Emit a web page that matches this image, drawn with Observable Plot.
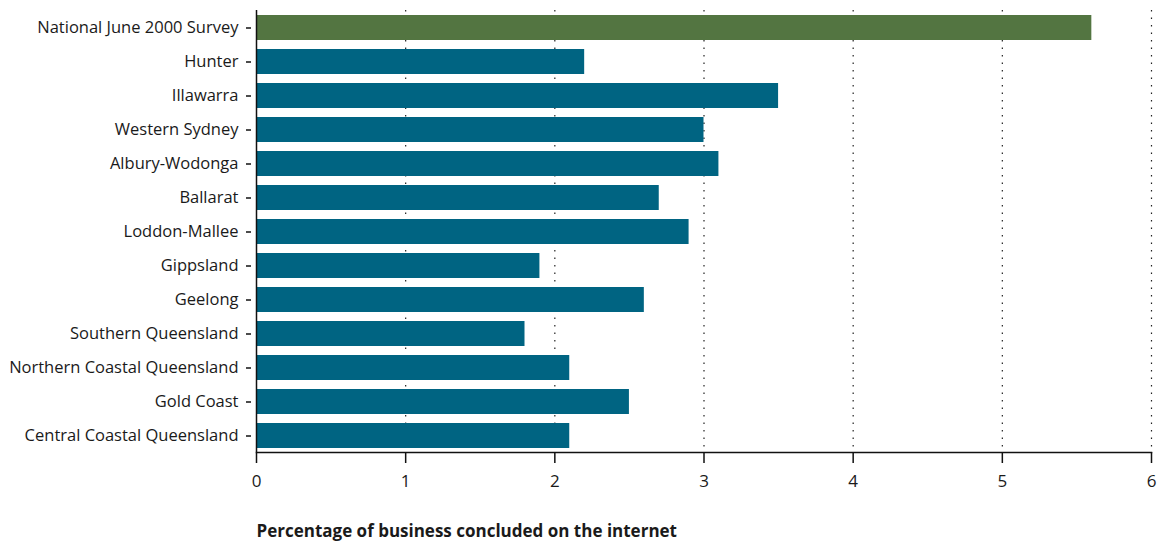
<!DOCTYPE html>
<html>
<head>
<meta charset="utf-8">
<script src="https://cdn.jsdelivr.net/npm/d3@7"></script>
<script src="https://cdn.jsdelivr.net/npm/@observablehq/plot@0.6"></script>
<style>
  html, body { margin: 0; padding: 0; background: #fff; }
  #chart svg { font-family: "Open Sans", sans-serif; }
</style>
</head>
<body>
<div id="chart"></div>
<script>
const regions = [
  "National June 2000 Survey",
  "Hunter",
  "Illawarra",
  "Western Sydney",
  "Albury-Wodonga",
  "Ballarat",
  "Loddon-Mallee",
  "Gippsland",
  "Geelong",
  "Southern Queensland",
  "Northern Coastal Queensland",
  "Gold Coast",
  "Central Coastal Queensland"
];
const percentages = [5.6, 2.2, 3.5, 3.0, 3.1, 2.7, 2.9, 1.9, 2.6, 1.8, 2.1, 2.5, 2.1];
const groups = ["National", "Regional", "Regional", "Regional", "Regional", "Regional", "Regional", "Regional", "Regional", "Regional", "Regional", "Regional", "Regional"];
const xTicks = [0, 1, 2, 3, 4, 5, 6];
const xTitle = "Percentage of business concluded on the internet";

const data = regions.map((r, i) => ({region: r, value: percentages[i], group: groups[i]}));

const chart = Plot.plot({
  width: 1166,
  height: 541,
  marginLeft: 256,
  marginRight: 15,
  marginTop: 10,
  marginBottom: 89,
  style: {fontSize: "17px", color: "#1a1a1a", fontFamily: "'Open Sans', sans-serif"},
  x: {domain: [0, 6], ticks: xTicks, label: null},
  y: {domain: regions, paddingInner: 0.27, paddingOuter: 0.135, label: null},
  color: {domain: ["National", "Regional"], range: ["#537541", "#006482"]},
  marks: [
    Plot.gridX(xTicks.slice(1), {stroke: "#222", strokeOpacity: 1, strokeDasharray: "1.5,6", strokeWidth: 1.2}),
    Plot.barX(data, {x: "value", y: "region", fill: "group"}),
    Plot.ruleX([0], {stroke: "#111", strokeWidth: 1.5}),
    Plot.frame({anchor: "bottom", stroke: "#111", strokeWidth: 1.5}),
    Plot.axisX(xTicks, {tickSize: 11, tickPadding: 11, tickFormat: "d", stroke: "#111", strokeWidth: 1.5, label: null, fontSize: "17px"}),
    Plot.axisY({tickSize: 5, tickPadding: 8, dx: -5, stroke: "#111", strokeWidth: 1.5, label: null, fontSize: "16.5px"}),
    Plot.text([xTitle], {frameAnchor: "bottom-left", dy: 79, text: d => d, textAnchor: "start", lineAnchor: "middle", fontWeight: "bold", fontSize: "17px", fill: "#1a1a1a"})
  ]
});
document.getElementById("chart").append(chart);
</script>
</body>
</html>
